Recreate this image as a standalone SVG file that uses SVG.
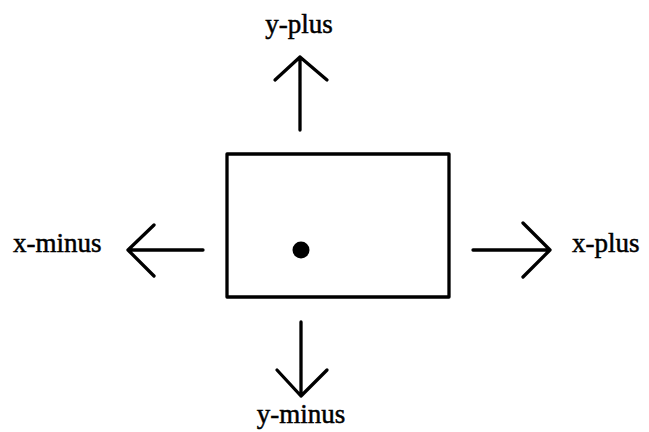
<svg xmlns="http://www.w3.org/2000/svg" width="649" height="432" viewBox="0 0 649 432">
<style>
.lbl{font-family:"Liberation Serif","Times New Roman",serif;font-size:27px;fill:#000;stroke:#000;stroke-width:0.5}
.ln{fill:none;stroke:#000;stroke-width:3.3;stroke-linecap:round;stroke-linejoin:round}
</style>
<rect width="649" height="432" fill="#fff"/>
<g id="box">
<rect x="227" y="154" width="222" height="143" class="ln" stroke-linejoin="miter"/>
<circle cx="301" cy="250" r="8.5" fill="#000"/>
</g>
<g id="connectors">
<path class="ln" d="M300 130 V57 M275 80 L300 57 L327 80"/>
<path class="ln" d="M203 250 H128 M154 225 L128 250 L154 276"/>
<path class="ln" d="M473 250 H550 M523 223 L550 250 L523 277"/>
<path class="ln" d="M301 322 V396 M277 370 L301 396 L327 370"/>
</g>
<g id="y-plus"><text class="lbl" x="299" y="33" text-anchor="middle">y-plus</text></g>
<g id="x-minus"><text class="lbl" x="13" y="252">x-minus</text></g>
<g id="x-plus"><text class="lbl" x="572" y="252">x-plus</text></g>
<g id="y-minus"><text class="lbl" x="301" y="423" text-anchor="middle">y-minus</text></g>
</svg>
